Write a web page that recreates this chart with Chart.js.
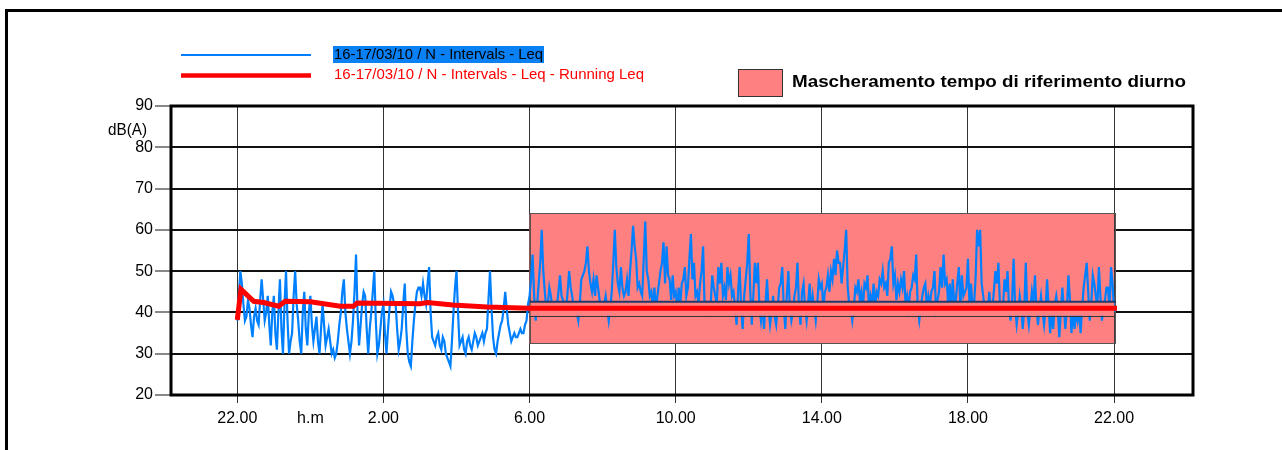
<!DOCTYPE html>
<html>
<head>
<meta charset="utf-8">
<script src="https://cdn.jsdelivr.net/npm/chart.js@4.4.1/dist/chart.umd.min.js"></script>
<style>
  html, body { margin: 0; padding: 0; background: #ffffff; }
  #c { display: block; }
</style>
</head>
<body>
<canvas id="c" width="1282" height="450"></canvas>
<script>
// ---- data (hours counted from 22:00 of the first day) ----
// Leq samples every 2.5 minutes: "main" samples at :00/:05..., "mid" samples half-way between them
const stepMinutes = 2.5;
const nightLeq = [38,50,42,39,41,34,41,37,48,38,
  44,32,44,31,48,30,50,30,35,50,
  38,30,45,32,44,33,39,30,42,32,
  36,30,29,33,40,48,36,30,38,54,
  32,42,44,30,40,50,30,36,42,30,
  41,44,42,31,36,47,30,27,38,45,
  46,47,42,51,34,32,35,31,33,29,
  27,40,50,32,34,30,34,31,35,32,
  34,33,36,50,34,30,35,38,45,37,
  33,35,34,36,35,38];
const nightMid = [44,47,38,43,37,39,38,43,43,40,
  37,40,35,40,36,42,38,33,44,42,
  33,40,36,40,37,36,33,36,37,34,
  33,31,30,37,45,40,33,33,45,40,
  37,45,36,36,45,38,32,40,35,36,
  45,42,36,33,42,36,28,33,42,46,
  44,44,47,40,33,34,32,34,30,28,
  33,46,40,33,31,33,32,33,34,33,
  35,35,43,41,31,33,37,41,41,35,
  34,34,35,35,37,42];
const dayLeq = [44,54,38,47,60,45,42,44,41,42,
  49,43,41,50,44,41,38,48,50,56,
  47,48,49,43,41,44,38,45,60,47,
  51,44,48,50,61,53,47,44,62,48,
  45,46,44,50,57,56,48,49,45,46,
  47,51,46,59,52,45,47,56,42,41,
  49,44,51,52,46,51,49,45,37,51,
  36,48,59,37,52,52,38,36,48,37,
  44,37,46,51,36,50,38,44,52,37,
  47,38,47,44,38,48,47,45,49,50,
  53,55,52,51,60,42,38,46,48,45,
  47,49,44,47,45,48,50,47,52,56,
  49,47,48,50,44,45,49,54,38,44,
  47,44,45,50,43,51,54,48,47,48,
  43,51,49,45,53,47,42,60,60,44,
  42,45,41,50,52,41,48,50,38,53,
  37,44,36,52,37,45,49,37,44,37,
  48,35,36,44,34,46,36,49,35,36,
  38,35,46,52,38,49,44,51,38,43,
  46,51,40];
const dayMid = [48,44,42,52,50,41,46,41,41,45,
  44,41,45,46,41,40,42,49,52,50,
  45,44,46,41,42,41,41,52,51,45,
  46,45,44,55,56,46,45,53,50,44,
  41,41,47,52,47,49,43,44,41,42,
  48,44,53,48,44,42,50,41,40,42,
  46,42,47,44,43,47,44,41,45,41,
  44,52,45,44,47,41,42,42,41,40,
  39,41,47,41,44,41,40,46,41,45,
  41,42,40,41,42,46,41,46,45,48,
  49,52,47,55,46,41,41,45,43,41,
  46,41,42,41,44,47,46,44,53,47,
  43,45,46,42,41,46,48,41,41,46,
  41,42,46,41,45,46,47,42,41,42,
  47,41,44,46,42,41,48,56,47,41,
  41,41,45,47,42,41,45,41,43,41,
  40,41,41,40,41,42,41,41,40,41,
  41,40,42,41,40,41,41,43,41,40,
  41,41,49,45,42,47,41,44,41,46,
  41,47];
const runHours = [0, 0.1, 0.45, 0.72, 1.13, 1.31, 2.0, 2.82, 3.18, 3.28, 5.0, 5.2, 5.9, 6.84, 8.0, 24.08];
const runLeq   = [38.2, 45.6, 42.7, 42.4, 41.5, 42.7, 42.6, 41.5, 41.5, 42.3, 42.1, 42.4, 41.8, 41.3, 41.0, 41.0];
const tickHours  = [0, 2, 4, 8, 12, 16, 20, 24];
const tickLabels = ['22.00', 'h.m', '2.00', '6.00', '10.00', '14.00', '18.00', '22.00'];
const maskHours = [8, 24];       // day reference period 6:00 - 22:00
const maskRange = [32.4, 64];    // dB range of the masking box
const maskBand  = [39.2, 42.6];  // hidden band inside the mask
const seriesNames = ['16-17/03/10 / N - Intervals - Leq', '16-17/03/10 / N - Intervals - Leq - Running Leq'];
const maskTitle = 'Mascheramento tempo di riferimento diurno';

// ---- build datasets ----
const allLeq = [];
nightLeq.forEach((v, i) => { allLeq.push(v, nightMid[i]); });
dayLeq.forEach((v, j) => { allLeq.push(v); if (j < dayMid.length) allLeq.push(dayMid[j]); });
const bluePts = allLeq.map((v, k) => ({ x: k * stepMinutes / 60, y: v }));
const redPts = runHours.map((h, k) => ({ x: h, y: runLeq[k] }));

const FONT = '"Liberation Sans", Arial, sans-serif';

function fitText(ctx, text, x, y, w, font, color) {
  ctx.save();
  ctx.font = font;
  const m = ctx.measureText(text).width;
  ctx.translate(x, y);
  ctx.scale(w / m, 1);
  ctx.fillStyle = color;
  ctx.textBaseline = 'middle';
  ctx.textAlign = 'left';
  ctx.fillText(text, 0, 0);
  ctx.restore();
}

const decor = {
  id: 'decor',
  beforeDatasetsDraw(chart) {
    const { ctx, scales: { x, y } } = chart;
    const x0 = x.getPixelForValue(maskHours[0]), x1 = x.getPixelForValue(maskHours[1]);
    const y0 = y.getPixelForValue(maskRange[1]), y1 = y.getPixelForValue(maskRange[0]);
    ctx.save();
    ctx.fillStyle = '#FF8080';
    ctx.fillRect(x0, y0, x1 - x0, y1 - y0);
    ctx.strokeStyle = '#555555';
    ctx.lineWidth = 1;
    ctx.strokeRect(Math.round(x0) + 0.5, Math.round(y0) + 0.5, Math.round(x1 - x0), Math.round(y1 - y0));
    ctx.restore();
  },
  afterDatasetDraw(chart, args) {
    if (args.index !== 0) return;
    const { ctx, scales: { x, y } } = chart;
    const x0 = x.getPixelForValue(maskHours[0]), x1 = x.getPixelForValue(maskHours[1]);
    const yt = y.getPixelForValue(maskBand[1]), yb = y.getPixelForValue(maskBand[0]);
    ctx.save();
    ctx.fillStyle = '#FF8080';
    ctx.fillRect(x0 + 1, yt, x1 - x0 - 1, yb - yt);
    ctx.strokeStyle = '#1e3a6a';
    ctx.lineWidth = 2;
    ctx.beginPath(); ctx.moveTo(x0, yt); ctx.lineTo(x1 + 2, yt); ctx.stroke();
    ctx.strokeStyle = '#333333';
    ctx.lineWidth = 1;
    ctx.beginPath(); ctx.moveTo(x0, Math.round(yb) + 0.5); ctx.lineTo(x1, Math.round(yb) + 0.5); ctx.stroke();
    ctx.restore();
  },
  afterDraw(chart) {
    const { ctx, chartArea: a } = chart;
    ctx.save();
    // plot frame
    ctx.strokeStyle = '#000000';
    ctx.lineWidth = 3;
    ctx.strokeRect(a.left, a.top, a.right - a.left, a.bottom - a.top);
    // outer frame (top and left)
    ctx.beginPath();
    ctx.moveTo(6.5, 460); ctx.lineTo(6.5, 10.5); ctx.lineTo(1290, 10.5);
    ctx.stroke();
    // legend
    ctx.lineWidth = 2;
    ctx.strokeStyle = '#0080FF';
    ctx.beginPath(); ctx.moveTo(181, 55); ctx.lineTo(311, 55); ctx.stroke();
    ctx.fillStyle = '#0A80F5';
    ctx.fillRect(333, 46, 211, 17);
    fitText(ctx, seriesNames[0], 334, 54.5, 209, '15px ' + FONT, '#000000');
    ctx.lineWidth = 4.5;
    ctx.strokeStyle = '#FF0000';
    ctx.beginPath(); ctx.moveTo(181, 75.5); ctx.lineTo(311, 75.5); ctx.stroke();
    fitText(ctx, seriesNames[1], 334, 75, 310, '15px ' + FONT, '#FF0000');
    ctx.fillStyle = '#FF8080';
    ctx.fillRect(738, 69, 44, 27);
    ctx.strokeStyle = '#333333';
    ctx.lineWidth = 1;
    ctx.strokeRect(738.5, 69.5, 44, 27);
    fitText(ctx, maskTitle, 792, 83, 394, 'bold 16px ' + FONT, '#000000');
    // unit label
    fitText(ctx, 'dB(A)', 108, 131, 39, '16px ' + FONT, '#000000');
    ctx.restore();
  }
};

new Chart(document.getElementById('c'), {
  type: 'line',
  data: {
    datasets: [
      { label: seriesNames[0], data: bluePts, borderColor: '#0080FF', borderWidth: 2.2,
        pointRadius: 0, tension: 0, order: 1 },
      { label: seriesNames[1], data: redPts, borderColor: '#FF0000', borderWidth: 5,
        pointRadius: 0, tension: 0, order: 0 }
    ]
  },
  options: {
    responsive: false,
    animation: false,
    devicePixelRatio: 1,
    layout: { padding: { top: 106, right: 89, left: 0, bottom: 0 } },
    plugins: { legend: { display: false }, tooltip: { enabled: false }, title: { display: false } },
    scales: {
      x: {
        type: 'linear', min: -1.815, max: 26.16,
        afterBuildTicks(scale) { scale.ticks = tickHours.map(v => ({ value: v })); },
        afterFit(scale) { scale.height = 55; },
        border: { display: false },
        grid: {
          color: (c) => (c.tick && c.tick.value === 2) ? 'rgba(0,0,0,0)' : '#333333',
          tickColor: (c) => (c.tick && c.tick.value === 2) ? 'rgba(0,0,0,0)' : '#333333',
          lineWidth: 1, tickLength: 8, drawTicks: true
        },
        ticks: {
          autoSkip: false, maxRotation: 0, padding: 6, color: '#000000',
          font: { family: FONT, size: 16 },
          callback: (v) => { const i = tickHours.indexOf(v); return i >= 0 ? tickLabels[i] : ''; }
        }
      },
      y: {
        min: 20, max: 90,
        afterFit(scale) { scale.width = 171; },
        border: { display: false },
        grid: {
          color: '#111111', lineWidth: 2, tickLength: 16,
          tickColor: (c) => (c.tick && c.tick.value % 10 === 0) ? '#888888' : 'rgba(0,0,0,0)'
        },
        ticks: {
          stepSize: 5, padding: 2, color: '#000000',
          font: { family: FONT, size: 16 },
          callback: (v) => (v % 10 === 0 ? String(v) : '')
        }
      }
    }
  },
  plugins: [decor]
});
</script>
</body>
</html>
